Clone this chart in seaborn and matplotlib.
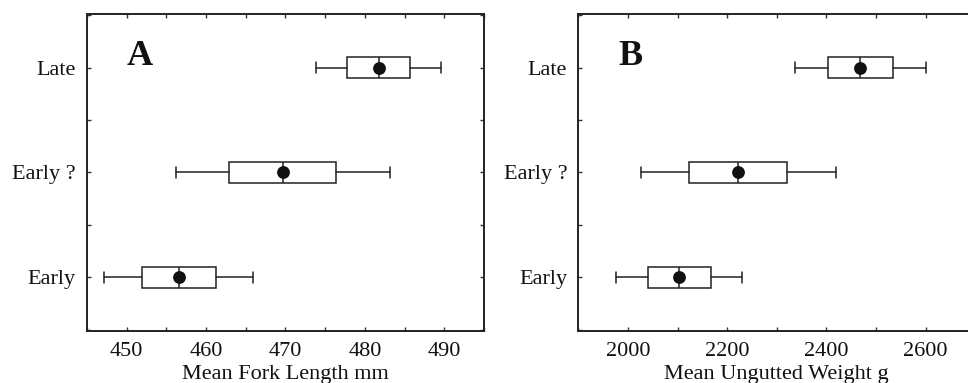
import matplotlib
matplotlib.use("Agg")
import matplotlib.pyplot as plt
from matplotlib.ticker import MultipleLocator
import seaborn as sns
import pandas as pd

groups = ["Early", "Early ?", "Late"]

# Panel A: mean fork length (mm)
a_mean = [456.6, 469.7, 481.8]
a_box_lo = [451.9, 462.9, 477.8]
a_box_hi = [461.2, 476.4, 485.7]
a_whis_lo = [447.2, 456.2, 473.8]
a_whis_hi = [465.9, 483.2, 489.6]

# Panel B: mean ungutted weight (g)
b_mean = [2104, 2222, 2468]
b_box_lo = [2040, 2124, 2404]
b_box_hi = [2167, 2321, 2535]
b_whis_lo = [1976, 2027, 2337]
b_whis_hi = [2231, 2420, 2600]

sns.set_style("ticks")
plt.rcParams["font.family"] = ["Liberation Serif", "DejaVu Serif"]

fig = plt.figure(figsize=(9.68, 3.83), dpi=100)
axA = fig.add_axes([0.0899, 0.1358, 0.410, 0.8277])
axB = fig.add_axes([0.5974, 0.1358, 0.410, 0.8277])


def panel(ax, mean, blo, bhi, wlo, whi, xlim, major, minor, xlabel, letter):
    stats = []
    for i, g in enumerate(groups):
        stats.append(dict(med=mean[i], q1=blo[i], q3=bhi[i],
                          whislo=wlo[i], whishi=whi[i], fliers=[], label=g))
    ax.bxp(stats, positions=[0, 1, 2], vert=False, widths=0.2,
           showfliers=False, patch_artist=True,
           boxprops=dict(facecolor="white", edgecolor="#222222", linewidth=1.1),
           whiskerprops=dict(color="#222222", linewidth=1.1),
           capprops=dict(color="#222222", linewidth=1.1),
           medianprops=dict(color="#222222", linewidth=1.1),
           capwidths=0.1)
    df = pd.DataFrame({"group": groups, "mean": mean, "pos": [0, 1, 2]})
    sns.scatterplot(data=df, x="mean", y="pos", ax=ax, color="#111111",
                    s=85, edgecolor="#111111", linewidth=0, zorder=5, legend=False)
    ax.set_xlim(*xlim)
    ax.set_ylim(-0.51, 2.51)
    ax.set_yticks([0, 1, 2])
    ax.set_yticklabels(groups)
    ax.yaxis.set_minor_locator(MultipleLocator(0.5))
    ax.xaxis.set_major_locator(MultipleLocator(major))
    ax.xaxis.set_minor_locator(MultipleLocator(minor))
    ax.tick_params(which="both", direction="in", top=True, right=True,
                   length=3, width=1.0, color="#333333",
                   labelsize=16, labelcolor="#111111", pad=8)
    ax.tick_params(axis="y", pad=8)
    ax.set_xlabel(xlabel, fontsize=16, color="#111111", labelpad=3)
    ax.set_ylabel("")
    for sp in ax.spines.values():
        sp.set_linewidth(1.4)
        sp.set_color("#222222")
    ax.text(0.10, 0.865, letter, transform=ax.transAxes, fontsize=26,
            fontweight="bold", ha="left", va="center", color="#111111")


panel(axA, a_mean, a_box_lo, a_box_hi, a_whis_lo, a_whis_hi,
      (445, 495), 10, 5, "Mean Fork Length mm", "A")
panel(axB, b_mean, b_box_lo, b_box_hi, b_whis_lo, b_whis_hi,
      (1900, 2700), 200, 100, "Mean Ungutted Weight g", "B")

fig.savefig("out.png", dpi=100)
